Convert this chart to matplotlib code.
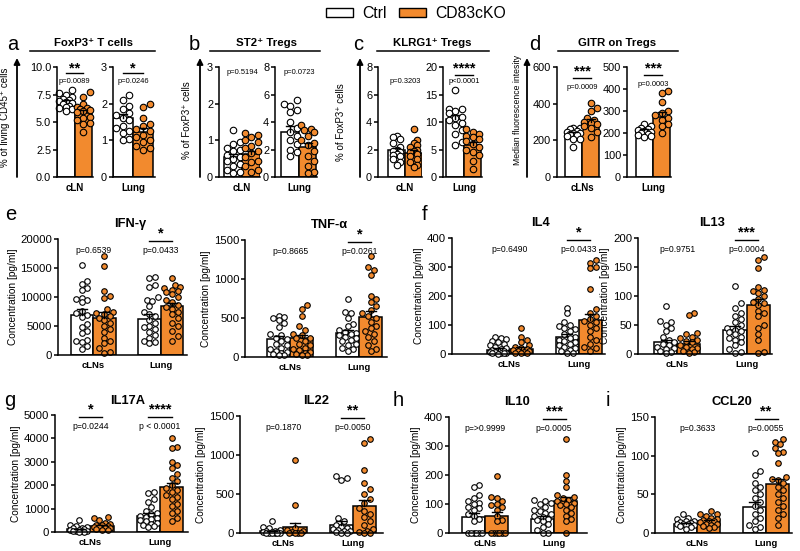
import numpy as np
import matplotlib.pyplot as plt
from matplotlib.patches import Patch
from matplotlib.lines import Line2D

plt.rcParams['font.family'] = ['Liberation Sans', 'DejaVu Sans']

ORANGE = '#f28a2e'
W, H = 800, 551

# ---------------- top row (a-d): one group per axis ----------------
# values are [Ctrl, CD83cKO]
foxp3_cln_ctrl = [7.9, 7.6, 7.5, 7.3, 7.1, 7.0, 6.9, 6.8, 6.7, 6.6, 6.5, 6.4, 6.3, 6.2, 6.0]
foxp3_cln_ko = [7.7, 7.3, 6.6, 6.4, 6.3, 6.2, 6.1, 6.0, 5.9, 5.5, 5.4, 5.2, 4.9, 4.8, 4.1]
foxp3_cln_mean = [6.84, 5.84]
foxp3_cln_sem = [0.13, 0.25]
foxp3_lung_ctrl = [2.23, 2.1, 1.95, 1.85, 1.75, 1.7, 1.6, 1.55, 1.4, 1.35, 1.25, 1.2, 1.05, 1.0]
foxp3_lung_ko = [2.0, 1.9, 1.6, 1.45, 1.4, 1.3, 1.25, 1.15, 1.1, 1.0, 0.95, 0.85, 0.8, 0.75]
foxp3_lung_mean = [1.62, 1.24]
foxp3_lung_sem = [0.1, 0.09]

st2_cln_ctrl = [1.27, 0.95, 0.9, 0.8, 0.75, 0.7, 0.6, 0.55, 0.5, 0.45, 0.35, 0.3, 0.2, 0.15, 0.1]
st2_cln_ko = [1.2, 1.15, 1.1, 1.0, 0.95, 0.85, 0.8, 0.7, 0.65, 0.55, 0.45, 0.4, 0.3, 0.2, 0.15]
st2_cln_mean = [0.54, 0.62]
st2_cln_sem = [0.08, 0.08]
st2_lung_ctrl = [5.6, 5.3, 5.2, 4.9, 4.7, 4.0, 3.6, 3.3, 3.0, 2.7, 2.4, 2.0, 1.8, 1.5]
st2_lung_ko = [3.8, 3.5, 3.45, 3.3, 3.0, 2.7, 2.5, 2.3, 1.9, 1.5, 1.2, 0.8, 0.4, 0.3]
st2_lung_mean = [3.3, 2.17]
st2_lung_sem = [0.4, 0.33]

klrg1_cln_ctrl = [3.0, 2.9, 2.8, 2.5, 2.2, 2.0, 1.9, 1.8, 1.7, 1.6, 1.5, 1.3, 1.1, 0.9]
klrg1_cln_ko = [3.5, 2.7, 2.5, 2.3, 2.2, 2.0, 1.9, 1.8, 1.7, 1.5, 1.3, 1.1, 0.9, 0.7]
klrg1_cln_mean = [1.93, 1.78]
klrg1_cln_sem = [0.15, 0.2]
klrg1_lung_ctrl = [15.8, 12.4, 12.3, 12.0, 11.6, 11.0, 10.7, 10.3, 9.8, 9.5, 8.5, 7.9, 6.3, 5.9]
klrg1_lung_ko = [8.7, 8.2, 7.8, 7.5, 7.2, 6.9, 6.5, 6.0, 5.5, 5.0, 4.5, 4.0, 3.0, 1.4]
klrg1_lung_mean = [10.6, 5.8]
klrg1_lung_sem = [0.7, 0.55]

gitr_cln_ctrl = [270, 265, 260, 250, 245, 240, 238, 235, 230, 225, 210, 205, 166]
gitr_cln_ko = [405, 375, 360, 320, 310, 300, 295, 290, 280, 270, 245, 220]
gitr_cln_mean = [239, 302]
gitr_cln_sem = [8, 16]
gitr_lung_ctrl = [241, 230, 225, 220, 215, 210, 205, 200, 195, 190, 185, 181]
gitr_lung_ko = [391, 383, 342, 300, 290, 280, 270, 260, 240, 230, 200]
gitr_lung_mean = [214, 274]
gitr_lung_sem = [5, 20]

# ---------------- cytokines (e-i): cLNs and Lung per axis ----------------
# mean / sem order: cLNs Ctrl, cLNs KO, Lung Ctrl, Lung KO
ifng_cln_ctrl = [15500, 12800, 12200, 11600, 11200, 9800, 9500, 9200, 9600, 7600, 7200, 6900, 6500,
                 5400, 4800, 4200, 3800, 2600, 2400, 2200, 1500, 1100]
ifng_cln_ko = [17000, 15300, 11000, 10200, 9800, 8000, 7500, 7200, 7100, 6700, 6300, 6000, 5500,
               5000, 4500, 4000, 3000, 2500, 2000, 1200, 500, 400]
ifng_lung_ctrl = [13500, 13200, 12000, 11800, 10000, 9500, 9300, 8400, 7500, 7000, 6800, 6000, 5500,
                  5000, 4800, 4500, 4000, 3500, 3000, 2500, 2200, 2000]
ifng_lung_ko = [13200, 12000, 11700, 11500, 11200, 11000, 10800, 10500, 10000, 9500, 9200, 8600,
                8300, 8000, 7500, 7000, 6300, 5600, 5000, 4200, 3300, 2500]
ifng_mean = [6950, 6380, 6250, 8390]
ifng_sem = [900, 950, 800, 650]

tnf_cln_ctrl = [530, 510, 500, 470, 430, 380, 300, 280, 250, 230, 200, 170, 150, 120, 100, 80, 60,
                50, 40, 30, 20]
tnf_cln_ko = [670, 620, 520, 400, 350, 300, 280, 250, 240, 200, 170, 150, 120, 100, 90, 70, 50, 40,
              30, 20]
tnf_lung_ctrl = [740, 580, 570, 500, 420, 400, 350, 320, 310, 300, 280, 260, 240, 220, 200, 170, 150,
                 120, 100, 80]
tnf_lung_ko = [1300, 1150, 1120, 1050, 780, 750, 700, 650, 600, 560, 520, 500, 450, 400, 370, 330,
               300, 260, 200, 150, 100, 80]
tnf_mean = [229, 242, 306, 514]
tnf_sem = [35, 40, 40, 75]

il4_cln_ctrl = [58, 55, 52, 45, 40, 35, 30, 25, 20, 18, 15, 12, 10, 8, 6, 5, 4, 3, 2, 1]
il4_cln_ko = [88, 60, 50, 40, 30, 25, 20, 18, 15, 12, 10, 8, 5, 3, 2]
il4_lung_ctrl = [160, 140, 110, 100, 95, 90, 85, 80, 70, 60, 55, 50, 45, 40, 35, 30, 25, 20, 15, 10,
                 5, 2]
il4_lung_ko = [325, 315, 300, 295, 225, 155, 140, 130, 120, 115, 110, 100, 90, 80, 60, 50, 35, 25,
               20, 10]
il4_mean = [15, 18, 60, 118]
il4_sem = [4, 6, 9, 20]

il13_cln_ctrl = [83, 57, 55, 50, 45, 40, 30, 25, 20, 18, 15, 12, 10, 8, 5, 3, 1]
il13_cln_ko = [70, 68, 37, 35, 30, 28, 25, 22, 20, 15, 12, 10, 8, 5, 3, 2]
il13_lung_ctrl = [118, 88, 80, 70, 65, 60, 55, 50, 45, 42, 40, 38, 35, 30, 28, 25, 20, 15, 8, 3, 2]
il13_lung_ko = [168, 162, 148, 115, 110, 108, 105, 100, 95, 90, 88, 85, 75, 70, 65, 50, 45, 35, 25,
                3, 2]
il13_mean = [20, 17, 42, 84]
il13_sem = [5, 5, 6, 10]

il17_cln_ctrl = [520, 300, 250, 200, 180, 150, 120, 100, 80, 60, 50, 40, 30, 20, 10]
il17_cln_ko = [620, 580, 500, 400, 350, 300, 280, 250, 220, 200, 180, 150, 120, 100, 80]
il17_lung_ctrl = [1700, 1650, 1400, 1300, 1050, 900, 800, 750, 700, 650, 600, 550, 500, 450, 400,
                  350, 300, 250, 200]
il17_lung_ko = [4000, 3650, 3600, 3000, 2850, 2750, 2500, 2300, 2200, 2000, 1900, 1800, 1700, 1600,
                1500, 1400, 1200, 1100, 900, 800, 600, 450]
il17_mean = [110, 240, 696, 1903]
il17_sem = [30, 40, 100, 180]

il22_cln_ctrl = [160, 80, 60, 40, 30, 20, 15, 10, 8, 5, 3, 2, 1, 0, 0]
il22_cln_ko = [940, 360, 60, 40, 20, 10, 5, 0, 0, 0]
il22_lung_ctrl = [730, 700, 680, 190, 150, 100, 80, 60, 50, 40, 30, 20, 10, 5, 0]
il22_lung_ko = [1200, 1160, 810, 640, 560, 500, 430, 380, 320, 280, 250, 200, 150, 100, 50, 20, 10,
                5, 0]
il22_mean = [20, 75, 98, 341]
il22_sem = [10, 48, 55, 80]

il10_cln_ctrl = [165, 160, 130, 120, 110, 105, 100, 90, 85, 80, 65, 60, 50, 40, 0, 0, 0, 0, 0, 0]
il10_cln_ko = [195, 125, 120, 110, 100, 95, 90, 80, 60, 45, 40, 0, 0, 0, 0, 0, 0]
il10_lung_ctrl = [115, 110, 105, 100, 90, 80, 75, 70, 65, 60, 55, 50, 45, 40, 30, 20, 10, 0, 0]
il10_lung_ko = [325, 200, 180, 160, 130, 125, 120, 115, 110, 105, 100, 95, 90, 80, 70, 60, 50, 40, 0]
il10_mean = [56, 58, 49, 110]
il10_sem = [12, 14, 8, 15]

ccl20_cln_ctrl = [25, 20, 18, 16, 15, 14, 13, 12, 12, 11, 10, 10, 9, 8, 5]
ccl20_cln_ko = [28, 25, 24, 22, 20, 18, 17, 16, 15, 14, 12, 11, 10, 9, 8, 6]
ccl20_lung_ctrl = [103, 80, 75, 65, 60, 55, 50, 45, 40, 35, 30, 25, 20, 15, 10, 8, 5]
ccl20_lung_ko = [122, 118, 115, 110, 105, 103, 90, 72, 70, 68, 65, 60, 55, 50, 45, 40, 35, 30, 25,
                 20, 10]
ccl20_mean = [12, 15, 34, 63]
ccl20_sem = [1.2, 1.5, 6, 7]


def px_axes(fig, x0, y0, x1, y1):
    return fig.add_axes([x0 / W, 1 - y1 / H, (x1 - x0) / W, (y1 - y0) / H])


def style(ax, ticks, labels, fs):
    for s in ['top', 'right']:
        ax.spines[s].set_visible(False)
    for s in ['left', 'bottom']:
        ax.spines[s].set_linewidth(1.1)
    ax.set_ylim(ticks[0], ticks[-1])
    ax.set_yticks(ticks)
    ax.set_yticklabels(labels)
    ax.tick_params(axis='y', direction='out', length=3, width=1.1, labelsize=fs, pad=1.2)
    ax.tick_params(axis='x', length=0, labelsize=fs - 1, pad=4)


def swarm_x(ax, xc, vals, halfw, diam):
    # spread the dots sideways (pixel space) so they don't pile up
    tr = ax.transData
    ys = tr.transform(np.column_stack([np.full(len(vals), xc), vals]))[:, 1]
    xc_px = tr.transform((xc, 0))[0]
    lim = abs(tr.transform((xc + halfw, 0))[0] - xc_px)
    steps = [0.0]
    k = 1
    while k * diam * 0.5 <= lim:
        steps += [k * diam * 0.5, -k * diam * 0.5]
        k += 1
    placed = []
    offs = np.zeros(len(vals))
    for i in np.argsort(vals):
        best, best_d = 0.0, -1
        for s in steps:
            d = min([np.hypot(s - px, ys[i] - py) for px, py in placed], default=1e9)
            if d >= diam:
                best = s
                break
            if d > best_d:
                best, best_d = s, d
        placed.append((best, ys[i]))
        offs[i] = best
    inv = tr.inverted()
    return [inv.transform((xc_px + o, 0))[0] for o in offs]


def bars(ax, xc, ctrl, ko, mean, sem, size, diam):
    for x, vals, m, e, col in [(xc - 0.5, ctrl, mean[0], sem[0], 'white'),
                               (xc + 0.5, ko, mean[1], sem[1], ORANGE)]:
        ax.bar(x, m, width=1.0, color=col, edgecolor='black', linewidth=1.1, zorder=1)
        xs = swarm_x(ax, x, vals, 0.38, diam)
        ax.scatter(xs, vals, s=size, facecolor=col, edgecolor='black', linewidth=0.8,
                   zorder=2, clip_on=False)
        ax.plot([x, x], [m, m + e], color='black', lw=1.0, zorder=3)
        ax.plot([x - 0.22, x + 0.22], [m + e, m + e], color='black', lw=1.0, zorder=3)


def sig(ax, xc, stars, ptxt, ys, pfs):
    tr = ax.get_xaxis_transform()
    if stars:
        ax.text(xc, ys[0], stars, transform=tr, ha='center', va='center', fontsize=10.5,
                fontweight='bold')
        ax.plot([xc - 0.5, xc + 0.5], [ys[1], ys[1]], transform=tr, color='black', lw=1.0,
                clip_on=False)
    ax.text(xc, ys[2], ptxt, transform=tr, ha='center', va='center', fontsize=pfs)


fig = plt.figure(figsize=(W / 100, H / 100), dpi=100)

# ---------------- top row ----------------
top = [
    # box, xlim, ticks, labels, name, ctrl, ko, mean, sem, stars, p, ys
    ((57, 67, 93, 177), (-1.0, 1.05), [0, 2.5, 5, 7.5, 10], ['0.0', '2.5', '5.0', '7.5', '10.0'],
     'cLN', foxp3_cln_ctrl, foxp3_cln_ko, foxp3_cln_mean, foxp3_cln_sem, '**', 'p=0.0089',
     (0.99, 0.95, 0.87)),
    ((113, 67, 155, 177), (-1.0, 1.1), [0, 1, 2, 3], ['0', '1', '2', '3'],
     'Lung', foxp3_lung_ctrl, foxp3_lung_ko, foxp3_lung_mean, foxp3_lung_sem, '*', 'p=0.0246',
     (0.99, 0.95, 0.865)),
    ((219, 67, 260, 177), (-1.28, 1.0), [0, 1, 2, 3], ['0', '1', '2', '3'],
     'cLN', st2_cln_ctrl, st2_cln_ko, st2_cln_mean, st2_cln_sem, '', 'p=0.5194',
     (0, 0, 0.95)),
    ((275, 67, 317, 177), (-1.37, 1.03), [0, 2, 4, 6, 8], ['0', '2', '4', '6', '8'],
     'Lung', st2_lung_ctrl, st2_lung_ko, st2_lung_mean, st2_lung_sem, '', 'p=0.0723',
     (0, 0, 0.95)),
    ((378, 67, 422, 177), (-1.59, 1.0), [0, 2, 4, 6, 8], ['0', '2', '4', '6', '8'],
     'cLN', klrg1_cln_ctrl, klrg1_cln_ko, klrg1_cln_mean, klrg1_cln_sem, '', 'p=0.3203',
     (0, 0, 0.87)),
    ((443, 67, 482, 177), (-1.2, 1.03), [0, 5, 10, 15, 20], ['0', '5', '10', '15', '20'],
     'Lung', klrg1_lung_ctrl, klrg1_lung_ko, klrg1_lung_mean, klrg1_lung_sem, '****', 'p<0.0001',
     (0.99, 0.93, 0.865)),
    ((557, 67, 600, 177), (-1.43, 1.03), [0, 200, 400, 600], ['0', '200', '400', '600'],
     'cLNs', gitr_cln_ctrl, gitr_cln_ko, gitr_cln_mean, gitr_cln_sem, '***', 'p=0.0009',
     (0.96, 0.90, 0.815)),
    ((627, 67, 671, 177), (-1.49, 1.03), [0, 100, 200, 300, 400, 500],
     ['0', '100', '200', '300', '400', '500'],
     'Lung', gitr_lung_ctrl, gitr_lung_ko, gitr_lung_mean, gitr_lung_sem, '***', 'p=0.0003',
     (0.99, 0.93, 0.845)),
]
for box, xl, ticks, labs, name, c, k, m, e, st, p, ys in top:
    ax = px_axes(fig, *box)
    ax.set_xlim(*xl)
    style(ax, ticks, labs, 7.9)
    ax.set_xticks([0])
    ax.set_xticklabels([name], fontweight='bold', fontsize=7)
    bars(ax, 0, c, k, m, e, 22, 6.5)
    sig(ax, 0, st, p, ys, 5.4)

# panel headers, arrows and axis texts of the top row
for letter, lx, title, tx, u0, u1, ax_x, lab_x, lab_y, lab, lab_fs in [
        ('a', 13, 'FoxP3⁺ T cells', 93, 30, 155, 17, 5, 117, '% of living CD45⁺ cells', 7.0),
        ('b', 194, 'ST2⁺ Tregs', 266, 210, 320, 200, 187, 120, '% of FoxP3⁺ cells', 7.0),
        ('c', 358, 'KLRG1⁺ Tregs', 432, 377, 489, 360, 341, 122, '% of FoxP3⁺ cells', 7.0),
        ('d', 535, 'GITR on Tregs', 617, 558, 678, 527, 517, 110, 'Median fluorescence intesity',
         6.2)]:
    fig.text(lx / W, 1 - 44 / H, letter, fontsize=14.5, ha='center', va='center')
    fig.text(tx / W, 1 - 43 / H, title, fontsize=8.2, fontweight='bold', ha='center',
             va='center')
    fig.add_artist(Line2D([u0 / W, u1 / W], [1 - 50.5 / H] * 2, color='black', lw=1.1))
    fig.text(lab_x / W, 1 - lab_y / H, lab, fontsize=lab_fs, rotation=90, ha='center',
             va='center')
    ax.annotate('', xy=(ax_x / W, 1 - 58 / H), xytext=(ax_x / W, 1 - 177 / H),
                xycoords='figure fraction', textcoords='figure fraction',
                arrowprops=dict(arrowstyle='-|>', color='black', lw=1.3, mutation_scale=9,
                                shrinkA=0, shrinkB=0))

# ---------------- cytokine rows ----------------
rows = [
    ((58, 239, 187, 355), (-1.56, 4.17), list(range(0, 20001, 5000)), 'IFN-γ', 130, 224,
     ifng_cln_ctrl, ifng_cln_ko, ifng_lung_ctrl, ifng_lung_ko, ifng_mean, ifng_sem,
     ('', 'p=0.6539'), ('*', 'p=0.0433')),
    ((245, 240, 387, 357), (-1.96, 4.2), list(range(0, 1501, 500)), 'TNF-α', 329, 225,
     tnf_cln_ctrl, tnf_cln_ko, tnf_lung_ctrl, tnf_lung_ko, tnf_mean, tnf_sem,
     ('', 'p=0.8665'), ('*', 'p=0.0261')),
    ((452, 238, 605, 354), (-2.5, 4.15), list(range(0, 401, 100)), 'IL4', 540, 223,
     il4_cln_ctrl, il4_cln_ko, il4_lung_ctrl, il4_lung_ko, il4_mean, il4_sem,
     ('', 'p=0.6490'), ('*', 'p=0.0433')),
    ((638, 238, 772, 354), (-1.7, 4.1), list(range(0, 201, 50)), 'IL13', 712, 223,
     il13_cln_ctrl, il13_cln_ko, il13_lung_ctrl, il13_lung_ko, il13_mean, il13_sem,
     ('', 'p=0.9751'), ('***', 'p=0.0004')),
    ((55, 415, 188, 532), (-1.52, 4.2), list(range(0, 5001, 1000)), 'IL17A', 128, 401,
     il17_cln_ctrl, il17_cln_ko, il17_lung_ctrl, il17_lung_ko, il17_mean, il17_sem,
     ('*', 'p=0.0244'), ('****', 'p < 0.0001')),
    ((240, 416, 383, 533), (-1.87, 4.3), list(range(0, 1501, 500)), 'IL22', 316, 401,
     il22_cln_ctrl, il22_cln_ko, il22_lung_ctrl, il22_lung_ko, il22_mean, il22_sem,
     ('', 'p=0.1870'), ('**', 'p=0.0050')),
    ((449, 417, 587, 533), (-1.57, 4.43), list(range(0, 401, 100)), 'IL10', 517, 402,
     il10_cln_ctrl, il10_cln_ko, il10_lung_ctrl, il10_lung_ko, il10_mean, il10_sem,
     ('', 'p=>0.9999'), ('***', 'p=0.0005')),
    ((655, 417, 792, 533), (-1.83, 4.13), list(range(0, 151, 50)), 'CCL20', 732, 402,
     ccl20_cln_ctrl, ccl20_cln_ko, ccl20_lung_ctrl, ccl20_lung_ko, ccl20_mean, ccl20_sem,
     ('', 'p=0.3633'), ('**', 'p=0.0055')),
]
for box, xl, ticks, title, tx, ty, cc, ck, lc, lk, m, e, s1, s2 in rows:
    ax = px_axes(fig, *box)
    ax.set_xlim(*xl)
    style(ax, ticks, [str(t) for t in ticks], 8.2)
    ax.set_xticks([0, 3])
    ax.set_xticklabels(['cLNs', 'Lung'], fontweight='bold', fontsize=6.8)
    ax.set_ylabel('Concentration [pg/ml]', fontsize=7.3, labelpad=2)
    bars(ax, 0, cc, ck, m[:2], e[:2], 16, 5.6)
    bars(ax, 3, lc, lk, m[2:], e[2:], 16, 5.6)
    sig(ax, 0, s1[0], s1[1], (1.05, 0.985, 0.905), 6.2)
    sig(ax, 3, s2[0], s2[1], (1.05, 0.985, 0.905), 6.2)
    fig.text(tx / W, 1 - ty / H, title, fontsize=9.3, fontweight='bold', ha='center',
             va='center')

for letter, lx, ly in [('e', 11, 215), ('f', 425, 215), ('g', 10, 401), ('h', 398, 401),
                       ('i', 608, 400)]:
    fig.text(lx / W, 1 - ly / H, letter, fontsize=14.5, ha='center', va='center')

fig.legend(handles=[Patch(facecolor='white', edgecolor='black', label='Ctrl'),
                    Patch(facecolor=ORANGE, edgecolor='black', label='CD83cKO')],
           ncol=2, loc='upper center', bbox_to_anchor=(0.52, 1.015), frameon=False,
           fontsize=11.3, handlelength=1.7, handleheight=0.55, columnspacing=0.8,
           handletextpad=0.6)

fig.savefig('out.png', dpi=100)
